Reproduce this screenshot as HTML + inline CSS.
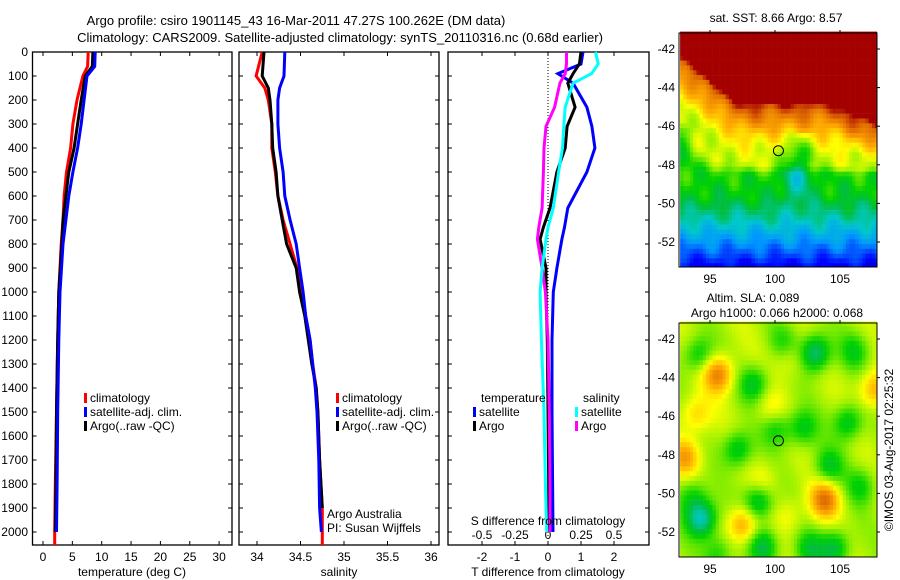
<!DOCTYPE html>
<html><head><meta charset="utf-8"><style>
body{margin:0;background:#fff;}
svg{display:block;font-family:"Liberation Sans",sans-serif;font-size:12px;}
</style></head><body>
<svg id="chart" width="900" height="580" xmlns="http://www.w3.org/2000/svg">
<rect width="900" height="580" fill="#fff"/>
<text x="296" y="25" text-anchor="middle" font-size="13">Argo profile: csiro 1901145_43 16-Mar-2011 47.27S 100.262E (DM data)</text>
<text x="340" y="42" text-anchor="middle" font-size="13">Climatology: CARS2009. Satellite-adjusted climatology: synTS_20110316.nc (0.68d earlier)</text>
<g id="maps"></g>
<g id="plots"></g>
</svg>
<script>
// ---- data ----
const tDepth=[0,60,100,200,300,400,500,600,700,800,1000,1200,1500,1800,2000,2054];
const tClim=[7.7,7.6,6.8,5.8,5.1,4.7,4.0,3.6,3.4,3.1,2.7,2.5,2.3,2.1,2.0,2.0];
const tSat=[8.9,8.8,7.5,7.0,6.5,5.9,5.1,4.4,3.9,3.4,2.9,2.7,2.5,2.4,2.3];
const tArgo=[8.5,8.4,7.2,6.5,5.9,5.3,4.4,3.9,3.4,3.2,2.7,2.5,2.3,2.2,2.1];
const sDepth=[0,100,150,200,300,400,500,600,700,800,900,1000,1100,1200,1300,1400,1500,1700,1900,2000,2054];
const sClim=[34.06,33.99,34.09,34.13,34.17,34.17,34.21,34.24,34.30,34.38,34.46,34.52,34.56,34.61,34.64,34.68,34.70,34.72,34.75,34.75,34.75];
const sArgo=[34.08,34.06,34.13,34.15,34.17,34.18,34.22,34.24,34.29,34.34,34.45,34.49,34.55,34.59,34.63,34.68,34.70,34.72,34.75];
const sSat=[34.32,34.31,34.26,34.24,34.24,34.26,34.30,34.32,34.38,34.45,34.49,34.53,34.56,34.61,34.64,34.67,34.69,34.71,34.72,34.74];
const dDepth=[0,50,90,130,230,310,400,500,650,730,780,900,1000,1200,1500,1800,2000];
const tSatDiff=[1.06,1.0,0.3,0.76,1.18,1.33,1.42,1.18,0.6,0.5,0.42,0.27,0.16,0.12,0.12,0.14,0.15];
const tArgoDiff=[1.0,0.95,0.76,0.6,0.82,0.58,0.52,0.27,0.06,-0.14,-0.24,-0.06,-0.06,-0.02,0.0,0.02,0.02];
const sArgoDiff=[0.14,0.14,0.13,0.09,0.05,-0.015,-0.03,-0.035,-0.045,-0.07,-0.08,-0.045,-0.02,0.0,0.01,0.015,0.015];
const sSatDiff=[0.36,0.38,0.33,0.19,0.13,0.12,0.11,0.08,0.04,0.0,-0.015,-0.045,-0.06,-0.05,-0.03,-0.02,-0.01];
const depthTicks=[0,100,200,300,400,500,600,700,800,900,1000,1100,1200,1300,1400,1500,1600,1700,1800,1900,2000];
const tTicks=[0,5,10,15,20,25,30];
const sTicks=[34,34.5,35,35.5,36];
const dTTicks=[-2,-1,0,1,2];
const dSTicks=[-0.5,-0.25,0,0.25,0.5];
const latTicks=[-42,-44,-46,-48,-50,-52];
const lonTicks=[95,100,105];

const NS='http://www.w3.org/2000/svg';
const plots=document.getElementById('plots');
const maps=document.getElementById('maps');
function el(tag,attrs,parent,txt){const e=document.createElementNS(NS,tag);for(const k in attrs)e.setAttribute(k,attrs[k]);if(txt!==undefined)e.textContent=txt;(parent||plots).appendChild(e);return e;}
const yD=d=>52+0.24*d;
const xT=t=>43+t*5.87;
const xS=s=>257+(s-34)*87;
const xDT=t=>548+t*33;
const xDS=s=>548+s*132;
const TOP=52,BOT=545;

function panel(x0,x1,name){
  const r=el('rect',{x:x0,y:TOP,width:x1-x0,height:BOT-TOP,fill:'none',stroke:'#000','stroke-width':1.3});
  
  
  depthTicks.forEach(d=>{
    const l=el('line',{x1:x0,x2:x0+4,y1:yD(d),y2:yD(d),stroke:'#000'});
    
    
    const l2=el('line',{x1:x1,x2:x1-4,y1:yD(d),y2:yD(d),stroke:'#000'});
    
    
  });
}
function xticks(vals,fx,name,ly){
  vals.forEach(v=>{
    const x=fx(v);
    [[BOT,BOT-4],[TOP,TOP+4]].forEach(p=>{
      const l=el('line',{x1:x,x2:x,y1:p[0],y2:p[1],stroke:'#000'});
      
      
    });
    if(ly){const t=el('text',{x:x,y:ly,'text-anchor':'middle'},plots,String(v));
      
      }
  });
}
function series(depths,vals,fx,color,name,w){
  let pts=[];
  for(let i=0;i<vals.length;i++)pts.push(fx(vals[i]).toFixed(1)+','+yD(depths[i]).toFixed(1));
  const p=el('polyline',{points:pts.join(' '),fill:'none',stroke:color,'stroke-width':w||3,'stroke-linejoin':'miter'});
  
  
}
function legend(x,y,color,label,name){
  const r=el('rect',{x:x,y:y-9,width:3,height:10,fill:color});
  
  
  const t=el('text',{x:x+6,y:y},plots,label);
  
  
}

// Panel 1
panel(32.5,232,'temperature-panel');
depthTicks.forEach(d=>{const t=el('text',{x:28,y:yD(d)+4,'text-anchor':'end'},plots,String(d));
  
  });
xticks(tTicks,xT,'temperature-x',561);
series(tDepth,tClim,xT,'#f00','temperature-climatology-line');
series(tDepth,tArgo,xT,'#000','temperature-argo-line');
series(tDepth,tSat,xT,'#00f','temperature-satellite-line');
let t1=el('text',{x:132,y:576,'text-anchor':'middle'},plots,'temperature (deg C)');


legend(84,402,'#f00','climatology','legend-climatology');
legend(84,416,'#00f','satellite-adj. clim.','legend-satellite');
legend(84,430,'#000','Argo(..raw -QC)','legend-argo');

// Panel 2
panel(239,439,'salinity-panel');
xticks(sTicks,xS,'salinity-x',561);
series(sDepth,sClim,xS,'#f00','salinity-climatology-line');
series(sDepth,sArgo,xS,'#000','salinity-argo-line');
series(sDepth,sSat,xS,'#00f','salinity-satellite-line');
let t2=el('text',{x:339,y:576,'text-anchor':'middle'},plots,'salinity');


legend(336,402,'#f00','climatology','legend-climatology-2');
legend(336,416,'#00f','satellite-adj. clim.','legend-satellite-2');
legend(336,430,'#000','Argo(..raw -QC)','legend-argo-2');
let a1=el('text',{x:327,y:518},plots,'Argo Australia');


let a2=el('text',{x:327,y:532},plots,'PI: Susan Wijffels');



// Panel 3
panel(448,649,'difference-panel');
xticks(dTTicks,xDT,'t-diff-x',561);
dSTicks.forEach(v=>{const t=el('text',{x:xDS(v),y:539,'text-anchor':'middle'},plots,String(v));
  
  });
let zl=el('line',{x1:xDT(0),x2:xDT(0),y1:TOP,y2:BOT,stroke:'#000','stroke-dasharray':'1,2'});


series(dDepth,tSatDiff,xDT,'#00f','t-diff-satellite-line');
series(dDepth,tArgoDiff,xDT,'#000','t-diff-argo-line');
series(dDepth,sArgoDiff,xDS,'#f0f','s-diff-argo-line');
series(dDepth,sSatDiff,xDS,'#0ff','s-diff-satellite-line');
let s3=el('text',{x:548,y:525,'text-anchor':'middle'},plots,'S difference from climatology');


let t3=el('text',{x:548,y:576,'text-anchor':'middle'},plots,'T difference from climatology');


let lh1=el('text',{x:481,y:402},plots,'temperature');


let lh2=el('text',{x:583,y:402},plots,'salinity');


legend(473,416,'#00f','satellite','legend-t-satellite');
legend(473,430,'#000','Argo','legend-t-argo');
legend(575,416,'#0ff','satellite','legend-s-satellite');
legend(575,430,'#f0f','Argo','legend-s-argo');

// ---- maps ----
const cmapStops=[[0,[0,0,130]],[0.15,[0,0,255]],[0.28,[0,150,255]],[0.38,[0,200,200]],[0.47,[0,190,60]],[0.52,[0,210,0]],[0.6,[150,240,0]],[0.67,[255,255,0]],[0.76,[255,170,0]],[0.86,[220,100,0]],[0.93,[165,0,0]],[1,[165,0,0]]];
function cmap(v){v=Math.max(0,Math.min(1,v));
  for(let i=1;i<cmapStops.length;i++){const a=cmapStops[i-1],b=cmapStops[i];
    if(v<=b[0]){const f=(v-a[0])/(b[0]-a[0]);
      return 'rgb('+[0,1,2].map(k=>Math.round(a[1][k]+(b[1][k]-a[1][k])*f)).join(',')+')';}}
  return 'rgb(165,0,0)';}
const mX0=679,mX1=877,lonL=92.7,lonR=107.9;
const mlx=lon=>775+(lon-100)*13;
function drawMap(y0,fn,name){
  const g=el('g',{},maps);
  
  
  const mly=lat=>y0+16+(-42-lat)*19.3;
  const y1=y0+234;
  const step=0.25;
  for(let lon=lonL;lon<lonR;lon+=step){
    for(let lat=-41.1;lat>-53.4;lat-=step){
      const x=mlx(lon),y=mly(lat);
      if(x>=mX1||y>=y1)continue;
      el('rect',{x:x.toFixed(1),y:y.toFixed(1),width:Math.min(3.5,mX1-x).toFixed(1),height:Math.min(5.1,y1-y).toFixed(1),fill:cmap(fn(lon,lat))},g);
    }
  }
  el('rect',{x:mX0,y:y0,width:mX1-mX0,height:y1-y0,fill:'none',stroke:'#000'},g);
  latTicks.forEach(l=>{el('line',{x1:mX1,x2:mX1+3,y1:mly(l),y2:mly(l),stroke:'#000'},g);
    const t=el('text',{x:675,y:mly(l)+4,'text-anchor':'end'},maps,String(l));
    
    });
  lonTicks.forEach(l=>{el('line',{x1:mlx(l),x2:mlx(l),y1:y0,y2:y0-3,stroke:'#000'},g);
    const t=el('text',{x:mlx(l),y:y1+16,'text-anchor':'middle'},maps,String(l));
    
    });
  const c=el('circle',{cx:mlx(100.262),cy:mly(-47.27),r:5,fill:'none',stroke:'#000'},maps);
  
  
}
function interp(xs,ys,x){if(x<=xs[0])return ys[0];for(let i=1;i<xs.length;i++)if(x<=xs[i])return ys[i-1]+(ys[i]-ys[i-1])*(x-xs[i-1])/(xs[i]-xs[i-1]);return ys[ys.length-1];}
const sstLat=[-53.5,-52.5,-51.5,-50.5,-49.5,-48.4,-47.9,-47,-46.3,-45.6,-44.9,-44.5];
const sstVal=[0.1,0.22,0.32,0.42,0.5,0.53,0.63,0.66,0.72,0.8,0.88,1.0];
function sst(lon,lat){
  // red boundary: further north in west, further south in east
  let sh=0;
  if(lon<97)sh=-(97-lon)*0.55;
  if(lon>104)sh=(lon-104)*0.3;
  const w=Math.max(0,Math.min(1,(lat+48.5)/2.5));
  let l=lat+sh*w;
  let v=interp(sstLat,sstVal,l);
  v+=0.025*Math.sin(lon*1.9+lat*2.7)+0.02*Math.sin(lon*3.3-lat*1.6);
  const d2=(lon-101.6)**2*1.1+((lat+48)*0.7)**2;
  if(lat<-46.3)v-=0.16*Math.exp(-d2/1.4);
  if(v>0.92)v=1;
  return v;
}
const blobs=[[95.5,-43.7,0.2],[103.7,-50.2,0.21],[97.4,-51.5,0.16],[93,-48,0.15],[107.5,-44.5,0.14],[93.8,-45.8,0.1],[99.5,-45.5,0.06],[99,-49.3,0.06],[101,-43,0.05],[101,-51,0.05],
[103,-42.6,-0.2],[94.2,-51.2,-0.24],[98.6,-50.3,-0.17],[99,-52.6,-0.15],[104.5,-52.7,-0.15],[97,-47.6,-0.14],[105.5,-46.2,-0.14],[102,-46.5,-0.12],[104,-48.5,-0.12],[98.3,-44.2,-0.13],[93.5,-50,-0.1],[106,-42.5,-0.1],[94,-42.7,-0.12],[100.5,-42,-0.07],[106.5,-49.5,-0.1],[102.5,-52.8,-0.12],[100,-46.5,-0.1],[95.5,-53,-0.1]];
function sla(lon,lat){
  let v=0.62+0.025*Math.sin(lon*1.3+lat*0.9);
  blobs.forEach(b=>{const d2=(lon-b[0])**2+((lat-b[1])*1.2)**2;v+=b[2]*Math.exp(-d2/1.3);});
  return v;
}
drawMap(33,sst,'sst-map');
drawMap(323,sla,'sla-map');
let m1=el('text',{x:776,y:22,'text-anchor':'middle'},maps,'sat. SST: 8.66 Argo: 8.57');


let m2=el('text',{x:753,y:302,'text-anchor':'middle'},maps,'Altim. SLA: 0.089');


let m3=el('text',{x:777,y:317,'text-anchor':'middle'},maps,'Argo h1000: 0.066 h2000: 0.068');


let cr=el('text',{x:0,y:0,'text-anchor':'middle',transform:'translate(893,450) rotate(-90)'},maps,'©IMOS 03-Aug-2017 02:25:32');


</script>
</body></html>
